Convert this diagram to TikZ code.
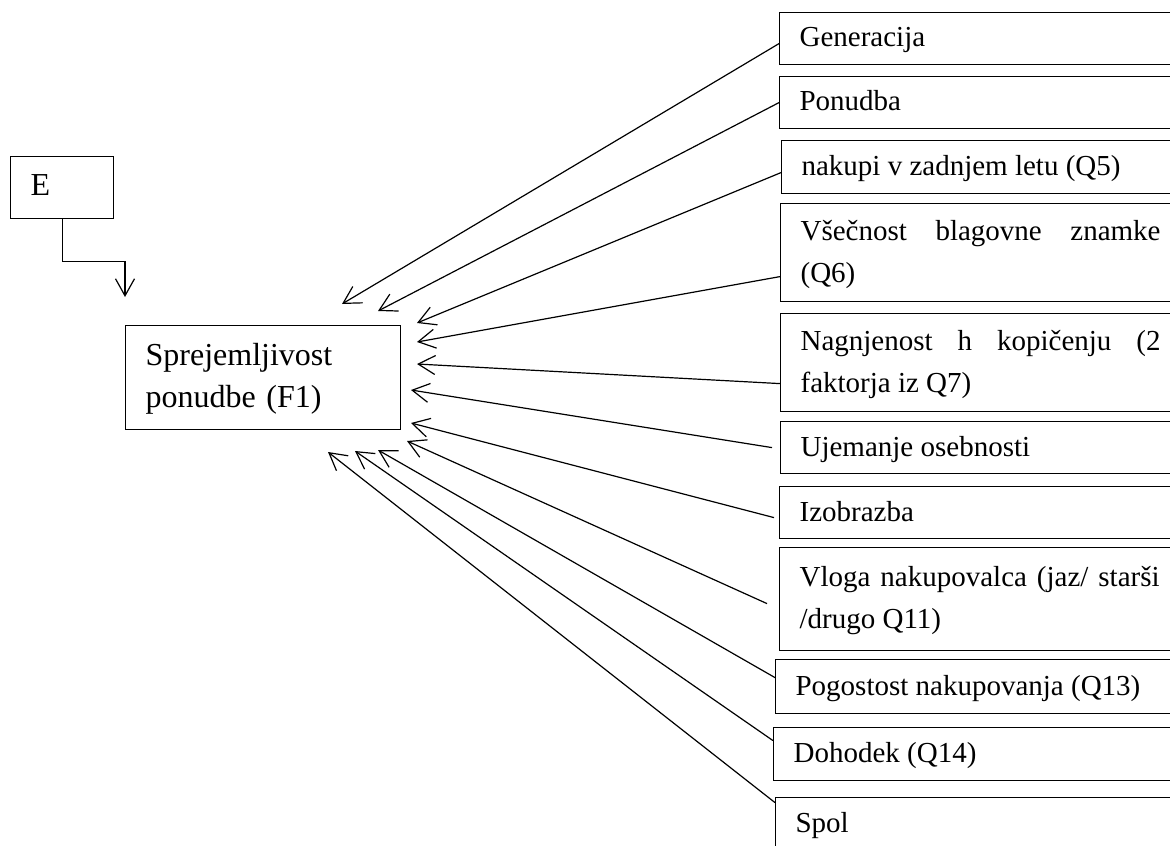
\documentclass[tikz,border=0pt]{standalone}
\usepackage{fontspec}
\setmainfont{Liberation Serif}
\usepackage{tikz}
\usetikzlibrary{arrows.meta}

\tikzset{
  box/.style={draw, line width=0.6pt, anchor=north west, inner xsep=10pt, inner ysep=0pt,
    font=\fontsize{14.5}{21}\selectfont,
    execute at begin node={\hyphenpenalty10000 \tolerance10000 \strut},
    execute at end node={\strut}},
  factor/.style={box, text width=180pt, align=justify},
  mainbox/.style={box, align=left, font=\fontsize{16}{21}\selectfont},
  arr/.style={line width=0.6pt, -{Straight Barb[length=8.5pt,width=9.5pt]}}
}

\begin{document}
\begin{tikzpicture}[x=0.5pt, y=-0.5pt]
  \useasboundingbox (0,0) rectangle (1170,845);
  \clip (0,0) rectangle (1170,845);

  % Nodes
  \node[mainbox, text width=31.5pt, minimum height=31pt] (e) at (10,156) {E};
  \node[mainbox, text width=117.5pt, minimum height=52pt] (f1) at (125,325) {Sprejemljivost\\ponudbe (F1)};

  \node[factor, minimum height=26pt] (gen) at (779,12) {Generacija};
  \node[factor, minimum height=26pt] (pon) at (779,76) {Ponudba};
  \node[factor, minimum height=26.5pt] (nak) at (781,140) {nakupi v zadnjem letu (Q5)};
  \node[factor, minimum height=49pt] (vse) at (780,203) {Všečnost blagovne znamke (Q6)};
  \node[factor, minimum height=49pt] (nag) at (780,313) {Nagnjenost h kopičenju (2 faktorja iz Q7)};
  \node[factor, minimum height=26pt] (uje) at (780,421) {Ujemanje osebnosti};
  \node[factor, minimum height=26pt] (izo) at (779,486) {Izobrazba};
  \node[factor, minimum height=51.5pt] (vlo) at (779,547) {Vloga nakupovalca (jaz/ starši /drugo Q11)};
  \node[factor, minimum height=27pt] (pog) at (775,659) {Pogostost nakupovanja (Q13)};
  \node[factor, minimum height=26.5pt] (doh) at (773,727) {Dohodek (Q14)};
  \node[factor, minimum height=26pt] (spol) at (775,797) {Spol};

  % Arrow tips
  \coordinate (tE) at (125,297);
  \coordinate (tGen) at (342,304);
  \coordinate (tPon) at (378,311);
  \coordinate (tNak) at (417,323);
  \coordinate (tVse) at (417,342);
  \coordinate (tNag) at (417,364);
  \coordinate (tUje) at (411,390);
  \coordinate (tIzo) at (411,423);
  \coordinate (tVlo) at (407,441);
  \coordinate (tPog) at (378,450);
  \coordinate (tDoh) at (355,451);
  \coordinate (tSpol) at (328,452);

  % Edges
  \draw[arr] (e.south) -- ++(0,42) -| (tE);
  \draw[arr] ([yshift=-2.5pt]gen.west) -- (tGen);
  \draw[arr] (pon.west) -- (tPon);
  \draw[arr] ([yshift=-2.75pt]nak.west) -- (tNak);
  \draw[arr] ([yshift=-12pt]vse.west) -- (tVse);
  \draw[arr] ([yshift=-10.5pt]nag.west) -- (tNag);
  \draw[arr] ([xshift=-4pt]uje.west) -- (tUje);
  \draw[arr] ([xshift=-2.5pt,yshift=-2.5pt]izo.west) -- (tIzo);
  \draw[arr] ([xshift=-6pt,yshift=-2.25pt]vlo.west) -- (tVlo);
  \draw[arr] ([yshift=4.5pt]pog.west) -- (tPog);
  \draw[arr] ([yshift=6.75pt]doh.west) -- (tDoh);
  \draw[arr] ([yshift=10.5pt]spol.west) -- (tSpol);
\end{tikzpicture}
\end{document}
